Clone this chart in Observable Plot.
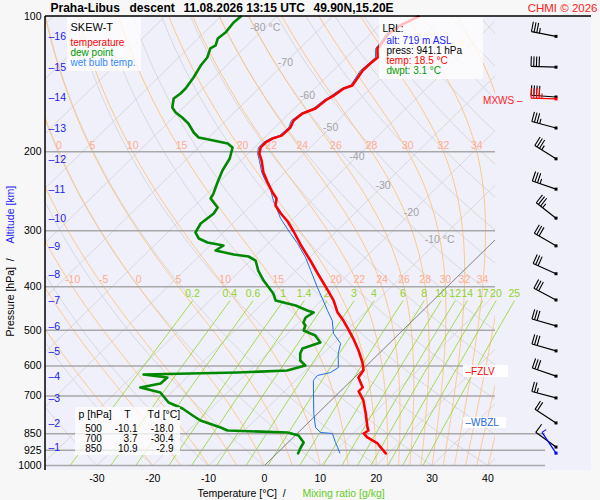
<!DOCTYPE html>
<html><head><meta charset="utf-8">
<script src="https://cdn.jsdelivr.net/npm/d3@7"></script>
<script src="https://cdn.jsdelivr.net/npm/@observablehq/plot@0.6"></script>
<style>
html,body{margin:0;padding:0;background:#f7f7f7;}
#chart{width:600px;height:500px;}
</style></head>
<body><div id="chart"></div>
<script>
// ---------------- data ----------------
const tempP = [100,104.7,109.1,114.3,117.8,123.4,127.3,131.9,142.5,144.7,150,153.8,160.3,164.5,170.5,176.7,184.2,187,190.8,195.6,202,209.4,222.6,234.3,246.6,254.3,263.6,274.6,286.1,301.2,321.9,349.5,373.6,393.2,407.4,429.2,456.4,475.5,492.9,523.8,554.5,589.7,613.7,636.6,670.1,683.9,716.4,765.8,823.2,835.8,848.6,866.2,893.2,940];
const tempT = [-54.6,-56.2,-56.8,-56.3,-56.1,-54.4,-54.6,-54.7,-53.8,-54.8,-55.3,-55.9,-56.2,-57.6,-57.9,-57.2,-57.3,-58.4,-58.9,-58.9,-58.0,-56.3,-53.8,-51.2,-48.5,-46.7,-45.6,-43.2,-40.5,-37.6,-34.0,-29.3,-25.6,-22.7,-20.7,-17.8,-14.9,-12.4,-10.4,-7.1,-4.2,-1.3,0.3,0.7,3.3,3.3,5.8,8.6,11.5,12.2,11.9,13.3,16.2,19.5];

const dewP = [100,103.1,108.6,111.9,116,117.8,123.4,128.6,136.7,144.7,148.4,152.3,159.5,163.6,167.9,173.1,181.3,186,188.9,191.8,195.8,207.1,220.3,234.3,247.9,254.3,266.3,274.6,289.1,302.7,312.2,318.7,323.6,332,338.9,342.4,349.5,367.9,387.3,413.9,429,440.2,451.6,456.3,468.1,480.3,487.7,500.4,513.4,532.2,548.8,563.1,583.7,598.8,614.4,620.7,623.9,627.1,636.8,656.7,670.3,687.7,723.9,746.6,773.9,793.9,823,835.7,844.3,857.4,888.7,911.9,940];
const dewT = [-86.4,-86.6,-86.2,-86.5,-85.6,-86.0,-84.9,-84.6,-83.7,-83.1,-83.1,-83.4,-82.0,-80.5,-78.4,-76.2,-73.6,-71.8,-68.6,-65.5,-63.9,-62.4,-61.5,-60.2,-58.9,-58.5,-55.6,-55.2,-55.7,-55.0,-53.3,-51.0,-47.6,-48.1,-44.1,-41.1,-39.1,-36.8,-34.0,-29.9,-28.2,-23.7,-20.7,-19.2,-19.7,-19.2,-18.3,-17.7,-14.7,-12.5,-14.6,-14.1,-12.8,-11.0,-13.3,-21.9,-30.1,-38.3,-33.5,-33.6,-36.5,-32.0,-28.7,-25.1,-22.0,-19.7,-14.8,-13.0,-1.9,0.6,2.8,3.2,3.8];

const wbP = [100,104.7,109.1,114.3,117.8,123.4,127.3,131.9,142.5,144.7,150,153.8,160.3,164.5,170.5,176.7,184.2,187,190.8,195.6,202,209.4,222.6,231.9,244.1,256.9,266.3,281.8,304.3,320.3,344.2,367.9,401.4,424.7,451.6,475.5,508.1,534.9,563.1,605,620.7,630.3,646.7,691.3,765.8,823.2,844.3,848.7,888.7,911.9,938];
const wbT = [-54.8,-56.5,-57.2,-56.6,-56.4,-54.8,-54.9,-55.1,-54.1,-55.2,-55.7,-56.2,-56.6,-57.9,-58.3,-57.5,-57.7,-58.8,-59.3,-59.3,-58.3,-56.7,-54.1,-52.0,-49.2,-46.9,-45.1,-42.3,-37.8,-34.7,-30.7,-27.4,-23.1,-20.2,-17.1,-14.4,-11.8,-8.7,-7.3,-4.7,-5.2,-7.0,-6.8,-4.4,-0.7,2.2,4.0,6.3,8.5,9.8,11.2];

const pLevels = [100,200,300,400,500,600,700,850,925,1000];
const tTicks = [-30,-20,-10,0,10,20,30,40];
const kmLevels = [1,2,3,4,5,6,7,8,9,10,11,12,13,14,15,16];
const kmP = [912,806,709,634,557,490,429,375,325,282,243,208,177.6,151.5,130,111];

const windAlt = [16,15,14,13,12,11,10,9,8,7,6,5,4,3,2,1];
const windDir = [281,272,274,285,302,289,308,300,294,298,286,286,289,285,303,306];
const windSpd = [35,40,40,35,35,35,35,30,30,30,30,30,30,25,20,10];
const mxwsP = 153, mxwsDir = 272, mxwsSpd = 45;
const sfcP = 941, sfcDir = 326, sfcSpd = 5;

const mixRatios = [0.2,0.4,0.6,1,1.4,2,3,4,6,8,10,12,14,17,20,25];
const thetaW = [-20,-15,-10,-5,0,5,10,15,20,22,24,26,28,30,32,34,36,38,40];
const isoLabelT = [-80,-70,-60,-50,-40,-30,-20,-10];
const isoLabelP = [105.8,126.6,150,176.7,205,237.9,273.2,313.8];

const tableP = [500,700,850];
const tableT = ["-10.1","3.7","10.9"];
const tableTd = ["-18.0","-30.4","-2.9"];

// ---------------- geometry helpers ----------------
const W = 600, H = 500, ML = 45, MR = 105, MT = 16, MB = 35;
const K = 35.68;                       // skew (°C per ln p)
const XL = -39.2, XR = 41.35;
const sx = d => d.T + K * Math.log(1000 / d.p);
const FONT = "'Liberation Sans', Arial, sans-serif";

const toRows = (P, T) => P.map((p, i) => ({p, T: T[i]}));
const tempData = toRows(tempP, tempT);
const dewData = toRows(dewP, dewT);
const wbData = toRows(wbP, wbT);

// background grid (thermodynamic lines)
const isoData = d3.range(-130, 50, 10).flatMap(t => [{p:1000,T:t,k:t},{p:100,T:t,k:t}]);
const pSteps = d3.range(1000, 99, -10);
const dryData = d3.range(-40, 220, 10).flatMap(th => pSteps.map(p => ({p, T:(th+273.15)*Math.pow(p/1000,0.2857)-273.15, k:th})));
function tdFromW(w, p){ const e = w*p/(622+w); const l = Math.log(e/6.112); return 243.5*l/(17.67-l); }
const mixData = mixRatios.flatMap(w => d3.range(1000, 429, -10).map(p => ({p, T: tdFromW(w,p), k:w})));
const LF = 1.0;
function moist(thw){
  const Rd=287.04, cp=1005.7, Lv=2.501e6*LF, eps=0.622;
  const f=(p,T)=>{const Tc=T-273.15; const es=6.112*Math.exp(17.67*Tc/(Tc+243.5)); const rs=eps*es/(p-es);
    return (Rd*T+Lv*rs)/(p*(cp+Lv*Lv*rs*eps/(Rd*T*T)));};
  let T=thw+273.15, p=1000; const pts=[{p, T:thw, k:thw}];
  while (p > 100.01){ const dp=-5; const k1=f(p,T), k2=f(p+dp/2,T+k1*dp/2); T+=k2*dp; p+=dp; pts.push({p, T:T-273.15, k:thw}); }
  return pts;
}
const moistLines = thetaW.map(moist);
const moistData = moistLines.flat();
const inFrame = d => { const x = sx(d); return x > XL + 0.5 && x < XR - 0.5; };
const moistLab200 = moistLines.map(l => l.find(d => Math.abs(d.p-200)<0.01)).filter(d => d.k >= 0 && d.k <= 34 && inFrame(d));
const moistLab400 = moistLines.map(l => l.find(d => Math.abs(d.p-400)<0.01)).filter(d => d.k >= -10 && d.k <= 34 && inFrame(d));
const mixLab = mixRatios.map(w => ({p:430, T:tdFromW(w,430), w}));

// ---------------- svg helpers ----------------
const NS = "http://www.w3.org/2000/svg";
function el(tag, attrs){ const e = document.createElementNS(NS, tag); for (const k in attrs) e.setAttribute(k, attrs[k]); return e; }
function rects(list){ return () => { const g = el("g",{}); for (const r of list) g.appendChild(el("rect",{x:r[0],y:r[1],width:r[2],height:r[3],fill:r[4],"fill-opacity":r[5]})); return g; }; }
const txt = (s, x, y, o = {}) => Plot.text([s], {frameAnchor:"top-left", dx:x-ML, dy:y-MT, text:d=>d, textAnchor:"start", lineAnchor:"middle", fill:"black", fontSize:10.5, ...o});

function frameLines(index, scales, values, dims){
  const g = el("g",{});
  g.appendChild(el("line",{x1:ML,x2:591,y1:MT,y2:MT,stroke:"black","stroke-width":1.5}));
  g.appendChild(el("line",{x1:ML,x2:ML,y1:MT,y2:470,stroke:"black","stroke-width":1.5}));
  return g;
}

function barbs(index, scales, values, dims){
  const g = el("g",{});
  const x0 = dims.width - 44;
  const items = windAlt.map((km,i) => ({p:kmP[kmLevels.indexOf(km)], dir:windDir[i], spd:windSpd[i], c:"black"}));
  items.push({p:mxwsP, dir:mxwsDir, spd:mxwsSpd, c:"red"});
  items.push({p:sfcP, dir:sfcDir, spd:sfcSpd, c:"blue"});
  for (const b of items){
    const y0 = scales.y(b.p);
    const a = b.dir*Math.PI/180, ux = Math.sin(a), uy = -Math.cos(a);
    const L = 25, ex = x0+ux*L, ey = y0+uy*L, px = -uy, py = ux;
    g.appendChild(el("line",{x1:x0,y1:y0,x2:ex,y2:ey,stroke:b.c,"stroke-width":1.2}));
    let n = Math.floor(b.spd/10), half = (b.spd%10) >= 5, d = 0;
    for (let i=0;i<n;i++){ const bx=ex-ux*d, by=ey-uy*d; g.appendChild(el("line",{x1:bx,y1:by,x2:bx+px*10,y2:by+py*10,stroke:b.c,"stroke-width":1.1})); d += 2.7; }
    if (half){ const bx=ex-ux*d, by=ey-uy*d; g.appendChild(el("line",{x1:bx,y1:by,x2:bx+px*5,y2:by+py*5,stroke:b.c,"stroke-width":1.1})); }
    g.appendChild(el("rect",{x:x0-1.5,y:y0-1.5,width:3,height:3,fill:b.c}));
  }
  return g;
}

const chart = Plot.plot({
  width: W, height: H,
  marginLeft: ML, marginRight: MR, marginTop: MT, marginBottom: MB,
  style: {fontFamily: FONT, fontSize: "10.5px", background: "transparent", overflow: "visible"},
  x: {domain: [XL, XR], axis: null},
  y: {type: "log", domain: [1000, 100], axis: null},
  marks: [
    rects([[ML, MT, 591-ML, 470-MT, "#f0f0fb", 1]]),
    Plot.line(isoData, {x: sx, y: "p", z: "k", stroke: "#d2d2d2", strokeWidth: 0.8, clip: true}),
    Plot.line(dryData, {x: sx, y: "p", z: "k", stroke: "#d2d2d2", strokeWidth: 0.8, clip: true}),
    Plot.line(moistData, {x: sx, y: "p", z: "k", stroke: "#ffc27a", strokeWidth: 0.9, clip: true}),
    Plot.line(mixData, {x: sx, y: "p", z: "k", stroke: "#8fd41c", strokeWidth: 0.8}),
    Plot.ruleY(pLevels.filter(p => p > 100 && p < 800), {stroke: "#a8a8a8", strokeWidth: 1.5}),
    Plot.ruleY(pLevels.filter(p => p > 800), {x1: XL, x2: 50.3, stroke: "#a8a8a8", strokeWidth: 1.5}),
    Plot.line([{p:1000,T:0},{p:100,T:0}], {x: sx, y: "p", stroke: "#666", strokeWidth: 0.7, clip: true}),
    Plot.text(isoLabelT, {x: (d,i) => d + K*Math.log(1000/isoLabelP[i]), y: (d,i) => isoLabelP[i], text: (d,i) => (i===0||i===isoLabelT.length-1) ? `${d} °C` : `${d}`, fill: "#a3a3a3", fontSize: 10.5}),
    Plot.text(moistLab200, {x: sx, y: "p", dy: -6, text: d => `${d.k}`, fill: "#ffab8f", fontSize: 10.5}),
    Plot.text(moistLab400, {x: sx, y: "p", dy: -7, text: d => `${d.k}`, fill: "#ffab8f", fontSize: 10.5}),
    Plot.text(mixLab, {x: sx, y: "p", dy: -7, text: d => `${d.w}`, fill: "#8fd41c", fontSize: 10.5}),
    Plot.line(wbData, {x: sx, y: "p", stroke: "#1f6fe5", strokeWidth: 1}),
    Plot.line(dewData, {x: sx, y: "p", stroke: "#008800", strokeWidth: 2.6}),
    Plot.line(tempData, {x: sx, y: "p", stroke: "#ff0000", strokeWidth: 2.6}),
    rects([[67,17,74,54,"white",0.75],[379,17,104,62,"white",0.75],[75,407,105,48,"white",0.75],[463,365,45,12,"white",0.9],[463,417,43,11,"white",0.9]]),
    frameLines,
    // pressure axis
    Plot.text(pLevels, {y: d => d, text: d => `${d}`, frameAnchor: "left", dx: -4, textAnchor: "end", lineAnchor: "middle", fontSize: 10.5, fill: "black"}),
    // temperature axis
    Plot.text(tTicks, {x: d => d, text: d => `${d}`, frameAnchor: "bottom", dy: 13, lineAnchor: "middle", fontSize: 10.5, fill: "black"}),
    // altitude ticks
    Plot.text(kmLevels, {y: (d,i) => kmP[i], text: d => `–${d}`, frameAnchor: "left", dx: 3, textAnchor: "start", lineAnchor: "middle", fill: "#2020ee", fontSize: 10.5}),
    barbs,
    // titles
    txt("Praha-Libus", 50, 7.5, {fontWeight: "bold", fontSize: 12}),
    txt("descent", 129, 7.5, {fontWeight: "bold", fontSize: 12}),
    txt("11.08.2026 13:15 UTC", 183, 7.5, {fontWeight: "bold", fontSize: 12}),
    txt("49.90N,15.20E", 313, 7.5, {fontWeight: "bold", fontSize: 12}),
    txt("CHMI © 2026", 597, 7.5, {textAnchor: "end", fill: "#ff2020", fontSize: 11.5}),
    // legend
    txt("SKEW-T", 70, 27, {fontSize: 11}),
    txt("temperature", 70, 42, {fill: "#ff0000", fontSize: 10}),
    txt("dew point", 70, 52, {fill: "#009900", fontSize: 10}),
    txt("wet bulb temp.", 70, 62, {fill: "#3388ff", fontSize: 10}),
    // LRL
    txt("LRL:", 382, 28, {fontSize: 10}),
    txt("alt: 719 m ASL", 386, 40, {fill: "#2222ff", fontSize: 10}),
    txt("press: 941.1 hPa", 386, 50, {fontSize: 10}),
    txt("temp: 18.5 °C", 386, 60, {fill: "#ff0000", fontSize: 10}),
    txt("dwpt: 3.1 °C", 386, 70, {fill: "#009900", fontSize: 10}),
    // levels
    txt("–FZLV", 465, 371, {fill: "#ff0000", fontSize: 10}),
    txt("–WBZL", 465, 422, {fill: "#2266dd", fontSize: 10}),
    txt("MXWS –", 522, 100, {fill: "#ff2020", fontSize: 10, textAnchor: "end"}),
    // table header
    txt("p [hPa]", 78, 414),
    txt("T", 127, 414, {textAnchor: "middle"}),
    txt("Td [°C]", 147, 414),
    // axis titles
    txt("Temperature [°C]  /", 197, 493),
    txt("Mixing ratio [g/kg]", 302, 493, {fill: "#66cc22"}),
    txt("Pressure [hPa]  /", 10, 336, {rotate: -90}),
    txt("Altitude [km]", 10, 243, {rotate: -90, fill: "#2222ff"})
  ].concat(tableP.flatMap((p, i) => [
    txt(`${p}`, 93, 428 + 10*i, {textAnchor: "middle", fontSize: 10}),
    txt(tableT[i], 137, 428 + 10*i, {textAnchor: "end", fontSize: 10}),
    txt(tableTd[i], 173, 428 + 10*i, {textAnchor: "end", fontSize: 10})
  ]))
});
document.getElementById("chart").appendChild(chart);
</script>
</body></html>
